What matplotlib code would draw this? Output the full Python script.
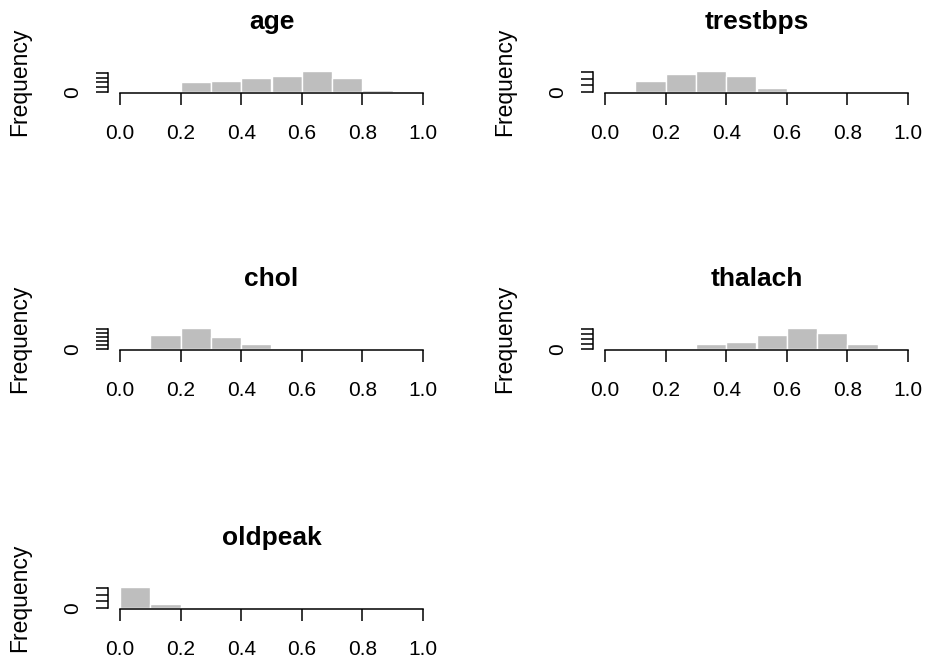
import matplotlib
matplotlib.use("Agg")
import numpy as np
import matplotlib.pyplot as plt

plt.rcParams['font.family'] = ['Liberation Sans', 'DejaVu Sans']

# histogram data (bin width 0.1, first break given per variable)
names = ['age', 'trestbps', 'chol', 'thalach', 'oldpeak']
first_break = [0.2, 0.1, 0.1, 0.3, 0.0]
age_counts = [20, 24, 29, 34, 44, 29, 4]
trestbps_counts = [34, 54, 64, 48, 12]
chol_counts = [71, 104, 57, 24]
thalach_counts = [19, 29, 55, 84, 65, 19]
oldpeak_counts = [160, 31, 9]
counts = [age_counts, trestbps_counts, chol_counts, thalach_counts, oldpeak_counts]

# y tick values as R drew them (only "0" label survives the overlap)
y_ticks = [[0, 10, 20, 30, 40],
           [0, 20, 40, 60],
           [0, 20, 40, 60, 80, 100],
           [0, 20, 40, 60, 80],
           [0, 50, 100, 150]]
x_ticks = [0.0, 0.2, 0.4, 0.6, 0.8, 1.0]

W, H = 925, 665
fig = plt.figure(figsize=(W / 100, H / 100), dpi=100)
fig.patch.set_facecolor('white')

px = 72 / 100  # pixels -> points
col_left = [108, 593]
row_bottom = [93, 350, 609]
box_w, box_h = 327, 23

for i, name in enumerate(names):
    r, c = divmod(i, 2)
    ax = fig.add_axes([col_left[c] / W, 1 - row_bottom[r] / H, box_w / W, box_h / H])

    vals = counts[i]
    edges = first_break[i] + 0.1 * np.arange(len(vals))
    ax.bar(edges, vals, width=0.1, align='edge', color='#bebebe',
           edgecolor='white', linewidth=1.0)

    top = max(vals)
    ax.set_xlim(-0.04, 1.04)
    ax.set_ylim(-0.04 * top, 1.04 * top)

    for s in ['top', 'right']:
        ax.spines[s].set_visible(False)
    ax.spines['left'].set_bounds(y_ticks[i][0], y_ticks[i][-1])
    ax.spines['bottom'].set_bounds(0, 1)
    ax.spines['left'].set_linewidth(1.1)
    ax.spines['bottom'].set_linewidth(1.1)

    ax.set_xticks(x_ticks, labels=['%.1f' % t for t in x_ticks])
    ax.set_yticks(y_ticks[i], labels=['0'] + [''] * (len(y_ticks[i]) - 1))
    ax.tick_params(axis='both', length=12 * px, width=1.1, labelsize=15,
                   colors='black')
    ax.tick_params(axis='x', pad=13.5)
    ax.tick_params(axis='y', pad=10, labelrotation=90)
    for lab in ax.get_yticklabels():
        lab.set_va('center')

    ax.annotate(name, xy=(0.5, 1), xycoords='axes fraction',
                xytext=(0, 41 * px), textcoords='offset points',
                ha='center', va='baseline', fontsize=19, fontweight='bold')
    ax.annotate('Frequency', xy=(0, 0.5), xycoords='axes fraction',
                xytext=(-88 * px, 0), textcoords='offset points',
                ha='center', va='center', rotation=90, fontsize=16.5)

fig.savefig('out.png', dpi=100, facecolor='white')
